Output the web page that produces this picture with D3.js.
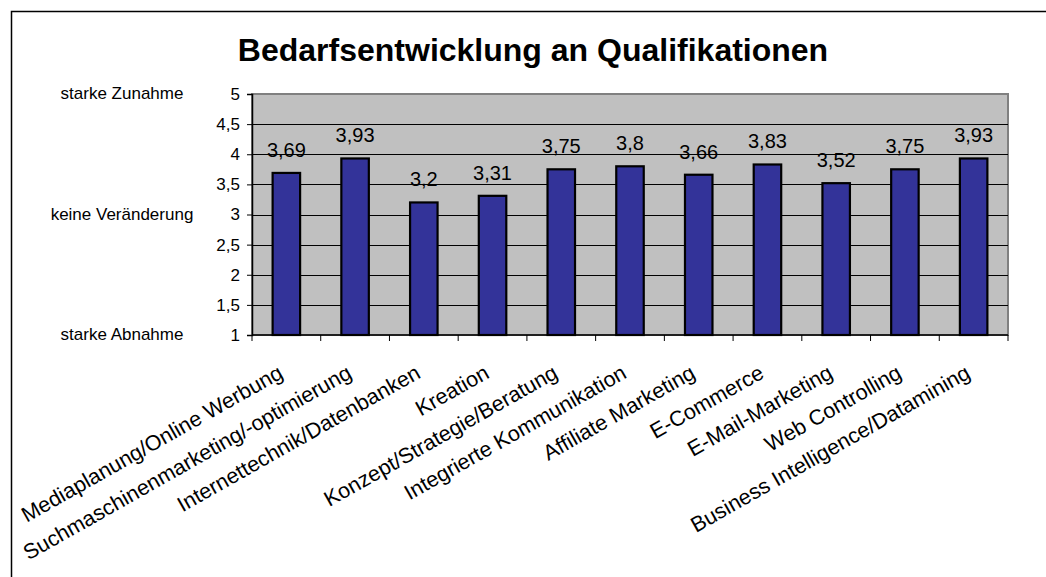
<!DOCTYPE html>
<html>
<head>
<meta charset="utf-8">
<script src="https://cdn.jsdelivr.net/npm/d3@7"></script>
<style>
  body { margin: 0; background: #fff; }
  svg { display: block; font-family: "Liberation Sans", Arial, sans-serif; }
</style>
</head>
<body>
<div id="chart"></div>
<script>
// data
var categories = ["Mediaplanung/Online Werbung", "Suchmaschinenmarketing/-optimierung",
  "Internettechnik/Datenbanken", "Kreation", "Konzept/Strategie/Beratung",
  "Integrierte Kommunikation", "Affiliate Marketing", "E-Commerce",
  "E-Mail-Marketing", "Web Controlling", "Business Intelligence/Datamining"];
var values = [3.69, 3.93, 3.2, 3.31, 3.75, 3.8, 3.66, 3.83, 3.52, 3.75, 3.93];
var yTicks = [1, 1.5, 2, 2.5, 3, 3.5, 4, 4.5, 5];
var sideLabels = [
  { value: 5, text: "starke Zunahme" },
  { value: 3, text: "keine Veränderung" },
  { value: 1, text: "starke Abnahme" }
];
var title = "Bedarfsentwicklung an Qualifikationen";

const width = 1046, height = 577;
const plot = { left: 252, right: 1008, top: 94, bottom: 335 };

const fmt = v => String(v).replace(".", ",");

const svg = d3.select("#chart").append("svg")
  .attr("width", width)
  .attr("height", height);

// outer frame (only top and left visible in the picture)
svg.append("rect")
  .attr("x", 11.5).attr("y", 11.5)
  .attr("width", width + 20).attr("height", height + 20)
  .attr("fill", "#fff")
  .attr("stroke", "#000")
  .attr("stroke-width", 1.5);

svg.append("text")
  .attr("x", 533).attr("y", 61)
  .attr("text-anchor", "middle")
  .attr("font-size", 32)
  .attr("font-weight", "bold")
  .text(title);

const x = d3.scaleBand()
  .domain(categories)
  .range([plot.left, plot.right])
  .paddingInner(0)
  .paddingOuter(0);

const y = d3.scaleLinear()
  .domain([1, 5])
  .range([plot.bottom, plot.top]);

// plot area
svg.append("rect")
  .attr("x", plot.left).attr("y", plot.top)
  .attr("width", plot.right - plot.left).attr("height", plot.bottom - plot.top)
  .attr("fill", "#c0c0c0")
  .attr("stroke", "#808080")
  .attr("stroke-width", 2);

// gridlines
svg.append("g")
  .selectAll("line")
  .data(yTicks.filter(t => t > 1 && t < 5))
  .join("line")
  .attr("x1", plot.left).attr("x2", plot.right)
  .attr("y1", d => Math.round(y(d)) + 0.5).attr("y2", d => Math.round(y(d)) + 0.5)
  .attr("stroke", "#000")
  .attr("stroke-width", 1);

// bars
const barW = x.bandwidth() / 2.5;
svg.append("g")
  .selectAll("rect")
  .data(values)
  .join("rect")
  .attr("x", (d, i) => x(categories[i]) + (x.bandwidth() - barW) / 2)
  .attr("y", d => y(d))
  .attr("width", barW)
  .attr("height", d => y(1) - y(d))
  .attr("fill", "#333399")
  .attr("stroke", "#000")
  .attr("stroke-width", 2.2);

// value labels
svg.append("g")
  .selectAll("text")
  .data(values)
  .join("text")
  .attr("x", (d, i) => x(categories[i]) + x.bandwidth() / 2)
  .attr("y", d => y(d) - 16)
  .attr("text-anchor", "middle")
  .attr("font-size", 20)
  .text(d => fmt(d));

// y axis
const yAxis = svg.append("g")
  .attr("transform", `translate(${plot.left},0)`)
  .call(d3.axisLeft(y).tickValues(yTicks).tickSize(5).tickPadding(7).tickFormat(fmt));
yAxis.select(".domain").attr("stroke", "#000").attr("stroke-width", 1.5);
yAxis.selectAll("text").attr("font-size", 17).attr("font-family", null).attr("fill", "#000");

// x axis: ticks on the category boundaries
const xAxisG = svg.append("g");
xAxisG.append("line")
  .attr("x1", plot.left).attr("x2", plot.right)
  .attr("y1", plot.bottom).attr("y2", plot.bottom)
  .attr("stroke", "#000").attr("stroke-width", 1.5);
xAxisG.selectAll("line.tick")
  .data(categories.map(c => x(c)).concat([plot.right]))
  .join("line")
  .attr("class", "tick")
  .attr("x1", d => d).attr("x2", d => d)
  .attr("y1", plot.bottom).attr("y2", plot.bottom + 6)
  .attr("stroke", "#000");

xAxisG.selectAll("text")
  .data(categories)
  .join("text")
  .attr("transform", d => `translate(${x(d) + x.bandwidth() / 2 - 2},377) rotate(-29.5)`)
  .attr("text-anchor", "end")
  .attr("font-size", 21.5)
  .text(d => d);

// side labels
svg.append("g")
  .selectAll("text")
  .data(sideLabels)
  .join("text")
  .attr("x", 122)
  .attr("y", d => y(d.value) + 5)
  .attr("text-anchor", "middle")
  .attr("font-size", 17)
  .text(d => d.text);
</script>
</body>
</html>
